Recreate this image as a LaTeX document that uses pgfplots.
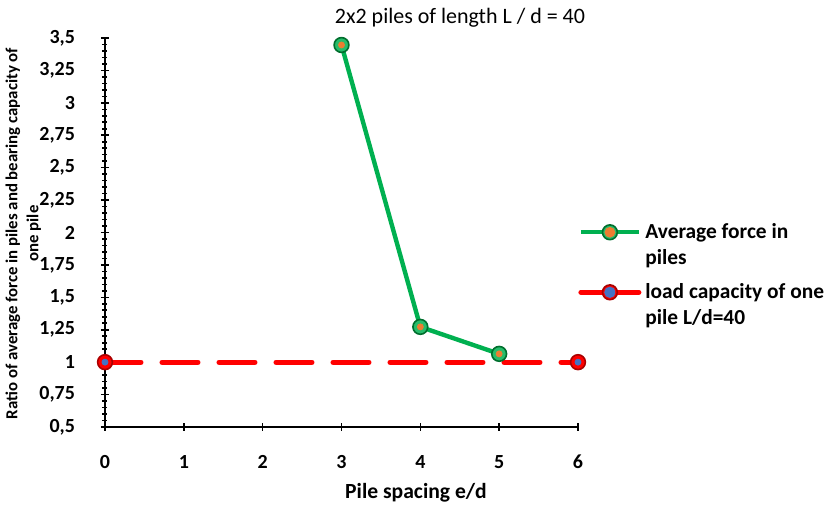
\documentclass[border=0pt]{standalone}
\usepackage{fontspec}
\setmainfont{Carlito}
\usepackage{pgfplots}
\pgfplotsset{compat=1.18}
\definecolor{xlgreen}{RGB}{0,176,80}
\definecolor{xldkgreen}{RGB}{0,110,45}
\definecolor{xlorange}{RGB}{237,125,49}
\definecolor{xlred}{RGB}{255,0,0}
\definecolor{xldkred}{RGB}{170,0,0}
\definecolor{xlblue}{RGB}{68,114,196}
\begin{document}
\begin{tikzpicture}
\useasboundingbox (-52.5pt,-39.5pt) rectangle (360.5pt,213.5pt);
\begin{axis}[
  scale only axis, width=236.5pt, height=194.5pt,
  at={(0,0)}, anchor=south west,
  xmin=0, xmax=6, ymin=0.5, ymax=3.5,
  axis lines=left,
  axis line style={-, line width=0.9pt},
  xtick={0,1,2,3,4,5,6},
  ytick={0.5,0.75,1,1.25,1.5,1.75,2,2.25,2.5,2.75,3,3.25,3.5},
  minor y tick num=4,
  major tick length=4pt, minor tick length=2.5pt,
  tick style={black, line width=0.8pt},
  /pgf/number format/.cd, use comma, assume math mode=true, 1000 sep={},
  /pgfplots/.cd,
  tick label style={font=\bfseries\fontsize{10}{11}\selectfont},
  xticklabel style={yshift=-8.5pt},
  yticklabel style={xshift=-9.5pt},
  clip=false,
  legend style={draw=none, fill=none, at={(1,0.535)}, anchor=north west,
    xshift=0pt, font=\bfseries\fontsize{10.7}{13}\selectfont,
    row sep=17pt, inner sep=0pt},
  legend cell align=left,
]
\addplot[xlgreen, line width=2.2pt, mark=*, mark size=3.7pt,
  mark options={fill=xlgreen!85!white, draw=xldkgreen, line width=0.8pt, solid},
  legend image code/.code={
    \draw[xlgreen, line width=2.2pt, solid] (0pt,0pt) -- (29pt,0pt);
    \filldraw[fill=xlgreen!85!white, draw=xldkgreen, line width=0.8pt, solid] (14.5pt,0pt) circle (3.7pt);
    \fill[xlorange] (14.5pt,0pt) circle (1.5pt);}]
  coordinates {(3,3.446) (4,1.272) (5,1.064)};
\addlegendentry{\vtop{\hbox{Average force in}\hbox{piles}}}
\addplot[xlred, line width=2.5pt, dash pattern=on 18pt off 10.5pt, line cap=round, mark=*, mark size=3.7pt,
  mark options={fill=xlred, draw=xldkred, line width=0.8pt, solid},
  legend image code/.code={
    \draw[xlred, line width=2.5pt, line cap=round, solid] (0pt,0pt) -- (29pt,0pt);
    \filldraw[fill=xlred, draw=xldkred, line width=0.8pt, solid] (14.5pt,0pt) circle (3.7pt);
    \fill[xlblue] (14.5pt,0pt) circle (1.5pt);}]
  coordinates {(0,1) (6,1)};
\addlegendentry{\vtop{\hbox{load capacity of one}\hbox{pile L/d=40}}}
\addplot[only marks, mark=*, mark size=1.5pt, xlorange, forget plot] coordinates {(3,3.446) (4,1.272) (5,1.064)};
\addplot[only marks, mark=*, mark size=1.5pt, xlblue, forget plot] coordinates {(0,1) (6,1)};
\end{axis}
\node[font=\fontsize{11}{12}\selectfont] at (177.5pt,204.5pt) {2x2 piles of length L / d = 40};
\node[font=\bfseries\fontsize{10.8}{12}\selectfont] at (155.5pt,-33pt) {Pile spacing e/d};
\node[font=\bfseries\fontsize{8.4}{10.5}\selectfont, rotate=90, align=center] at (-40.8pt,96.75pt) {Ratio of average force in piles and bearing capacity of\\one pile};
\end{tikzpicture}
\end{document}
